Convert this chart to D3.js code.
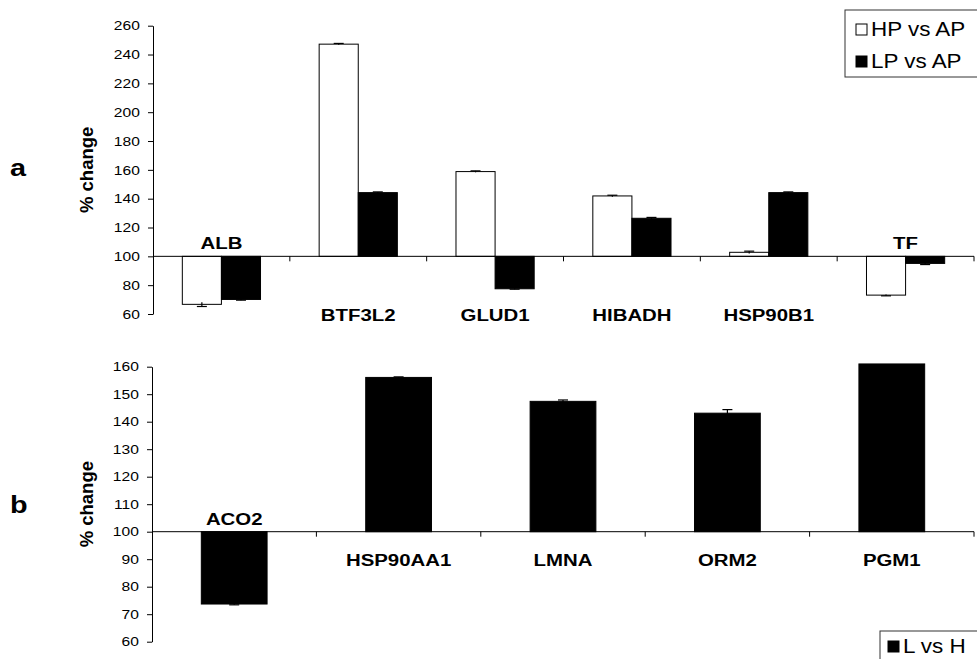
<!DOCTYPE html>
<html>
<head>
<meta charset="utf-8">
<script src="https://cdn.jsdelivr.net/npm/d3@7"></script>
<style>
  body { margin: 0; background: #fff; }
  text { font-family: "Liberation Sans", Arial, sans-serif; fill: #000; }
</style>
</head>
<body>
<div id="chart"></div>
<script>
// panel a data
var genesA = ["ALB", "BTF3L2", "GLUD1", "HIBADH", "HSP90B1", "TF"];
var hpVsAp = [66.7, 247.2, 158.8, 141.9, 102.8, 73.1];
var hpErr = [1.5, 0.5, 0.5, 0.5, 0.8, 0.5];
var lpVsAp = [70.1, 144.2, 77.5, 126.4, 144.2, 95.1];
var lpErr = [0.5, 0.5, 0.3, 0.6, 0.5, 0.8];
var ticksA = [60, 80, 100, 120, 140, 160, 180, 200, 220, 240, 260];
var seriesA = ["HP vs AP", "LP vs AP"];

// panel b data
var genesB = ["ACO2", "HSP90AA1", "LMNA", "ORM2", "PGM1"];
var lVsH = [73.7, 156.1, 147.4, 143.1, 161];
var lErr = [0.3, 0.2, 0.5, 1.3, 0];
var ticksB = [60, 70, 80, 90, 100, 110, 120, 130, 140, 150, 160];
var seriesB = ["L vs H"];

var width = 977, height = 659;
var stretch = 1.2;

var svg = d3.select("#chart").append("svg")
    .attr("width", width)
    .attr("height", height)

function label(g, x, y, str, size, weight, anchor, sx) {
  return g.append("text")
      .text(str)
      .attr("transform", "translate(" + x + "," + y + ") scale(" + (sx || stretch) + ",1)")
      .attr("font-size", size)
      .attr("font-weight", weight)
      .attr("text-anchor", anchor)
}

function panel(opts) {
  var g = svg.append("g");
  var x = d3.scaleBand().domain(opts.genes).range(opts.xRange);
  var y = d3.scaleLinear().domain([opts.ticks[0], opts.ticks[opts.ticks.length - 1]]).range(opts.yRange);
  var nSeries = opts.series.length;
  var barW = x.bandwidth() / (nSeries + 1.5);
  var base = y(100);

  // y axis
  var yAxis = g.append("g")
      .attr("transform", "translate(" + opts.xRange[0] + ",0)")
      .call(d3.axisLeft(y).tickValues(opts.ticks).tickSize(5).tickSizeOuter(0).tickPadding(6))
  yAxis.selectAll("path, line").attr("stroke", "#000")
  yAxis.selectAll("text")
      .attr("font-size", 13)
      .attr("font-family", "Liberation Sans, Arial, sans-serif")
      .attr("transform", "scale(" + stretch + ",1)")

  // bars
  opts.series.forEach(function(s, si) {
    var vals = opts.values[si], errs = opts.errors[si];
    var data = opts.genes.map(function(gn, i) { return {gene: gn, v: vals[i], e: errs[i]}; });
    var off = x.bandwidth() / 2 - nSeries * barW / 2 + si * barW;

    g.selectAll(".bar" + si)
      .data(data)
      .enter().append("rect")
        .attr("x", d => x(d.gene) + off)
        .attr("y", d => Math.min(y(d.v), base))
        .attr("width", barW)
        .attr("height", d => Math.abs(y(d.v) - base))
        .attr("fill", opts.fills[si])
        .attr("stroke", "#000")
        .attr("stroke-width", 1)

    var eb = g.selectAll(".err" + si)
      .data(data.filter(d => d.e > 0))
      .enter().append("g")
        .attr("stroke", "#000")
        .attr("stroke-width", 1.2)
    eb.append("line")
        .attr("x1", d => x(d.gene) + off + barW / 2)
        .attr("x2", d => x(d.gene) + off + barW / 2)
        .attr("y1", d => y(d.v - d.e))
        .attr("y2", d => y(d.v + d.e))
    eb.append("line")
        .attr("x1", d => x(d.gene) + off + barW / 2 - 5)
        .attr("x2", d => x(d.gene) + off + barW / 2 + 5)
        .attr("y1", d => d.v < 100 ? y(d.v - d.e) : y(d.v + d.e))
        .attr("y2", d => d.v < 100 ? y(d.v - d.e) : y(d.v + d.e))
  });

  // x axis at 100
  g.append("line")
      .attr("x1", opts.xRange[0]).attr("x2", opts.xRange[1])
      .attr("y1", base).attr("y2", base)
      .attr("stroke", "#000")
  var bounds = opts.genes.map(gn => x(gn)).concat([opts.xRange[1]]);
  g.selectAll(".xtick")
    .data(bounds.slice(1))
    .enter().append("line")
      .attr("x1", d => d).attr("x2", d => d)
      .attr("y1", base).attr("y2", base + 5)
      .attr("stroke", "#000")

  // gene labels: above axis when all bars go down
  opts.genes.forEach(function(gn, i) {
    var allDown = opts.values.every(v => v[i] < 100);
    var ly = allDown ? base - 7 : base + opts.belowOffset;
    label(g, x(gn) + x.bandwidth() / 2, ly, gn, 17, "bold", "middle")
  });

  // axis title and panel letter
  var midY = (opts.yRange[0] + opts.yRange[1]) / 2;
  g.append("text")
      .text("% change")
      .attr("transform", "translate(93," + midY + ") rotate(-90)")
      .attr("font-size", 18.5)
      .attr("font-weight", "bold")
      .attr("text-anchor", "middle")
  label(g, 10, opts.letterY, opts.letter, 24, "bold", "start")

  // legend
  var lg = g.append("g")
  lg.append("rect")
      .attr("x", opts.legend.x).attr("y", opts.legend.y)
      .attr("width", 150).attr("height", opts.legend.h)
      .attr("fill", "#fff").attr("stroke", "#333")
  opts.series.forEach(function(s, si) {
    var cy = opts.legend.y + opts.legend.first + si * 32;
    lg.append("rect")
        .attr("x", opts.legend.x + opts.legend.sw).attr("y", cy - 5)
        .attr("width", 11).attr("height", 11)
        .attr("fill", opts.fills[si]).attr("stroke", "#000")
    label(lg, opts.legend.x + opts.legend.sw + 15, cy + 7, s, 19.5, "normal", "start", 1.15)
  });
}

panel({
  genes: genesA, series: seriesA, values: [hpVsAp, lpVsAp], errors: [hpErr, lpErr],
  fills: ["#fff", "#000"], ticks: ticksA,
  xRange: [153, 974], yRange: [314, 25.7], belowOffset: 65,
  letter: "a", letterY: 176,
  legend: {x: 845, y: 10, h: 67, first: 19, sw: 11}
})

panel({
  genes: genesB, series: seriesB, values: [lVsH], errors: [lErr],
  fills: ["#000"], ticks: ticksB,
  xRange: [152, 974], yRange: [641.7, 366.7], belowOffset: 34,
  letter: "b", letterY: 513,
  legend: {x: 880, y: 631, h: 40, first: 15, sw: 8}
})
</script>
</body>
</html>
